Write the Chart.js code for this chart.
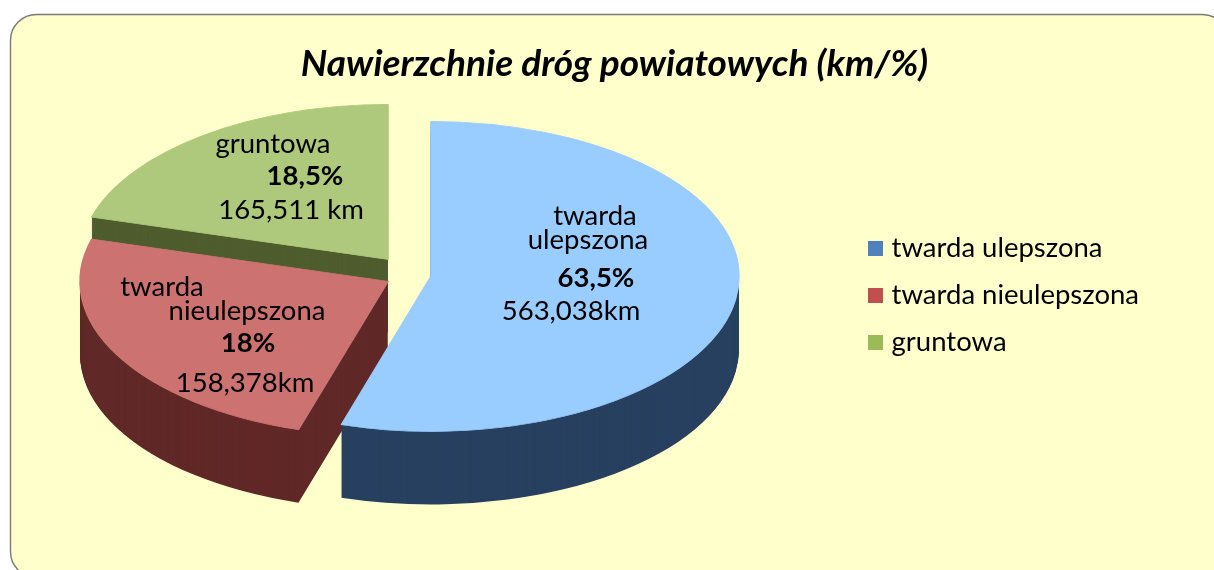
<!DOCTYPE html>
<html lang="pl">
<head>
<meta charset="utf-8">
<title>Nawierzchnie dróg powiatowych</title>
<style>html,body{margin:0;padding:0;background:#fff}#w{width:1214px;height:570px;position:relative;overflow:hidden}</style>
<script src="https://cdn.jsdelivr.net/npm/chart.js@4"></script>
</head>
<body>
<div id="w"><canvas id="c" width="1214" height="570"></canvas></div>
<script>
const chartTitle = 'Nawierzchnie dróg powiatowych (km/%)';
const categories = ['twarda ulepszona', 'twarda nieulepszona', 'gruntowa'];
// Values printed on the slices of the reference
const kmText = ['563,038km', '158,378km', '165,511 km'];
const percentText = ['63,5%', '18%', '18,5%'];
// Slice sizes as actually drawn in the reference (% of the circle);
// the source image's wedges do not follow its printed percentages.
const drawnShare = [54.7, 24.7, 20.6];

const topColors = ['#99CCFF', '#CC7371', '#AEC97B'];
const wallColors = ['#284060', '#612828', '#4F5D2E'];
const legendColors = ['#4F81BD', '#C0504D', '#9BBB59'];
const explode = [12.8, 17.25, 25.2];

const FONT = 'Lato, Carlito, Calibri, sans-serif';
const center = {x: 411.4, y: 275};
const baseRadius = 200, scaleX = 1.54, scaleY = 0.775, depth = 73;

const textLines = [
  [categories[0].split(' ')[0], 595, 216, false],
  [categories[0].split(' ')[1], 588, 240, false],
  [percentText[0], 596, 278, true],
  [kmText[0], 571, 311, false],
  [categories[1].split(' ')[0], 162, 287, false],
  [categories[1].split(' ')[1], 247, 311, false],
  [percentText[1], 248, 343, true],
  [kmText[1], 245, 383, false],
  [categories[2], 273, 144, false],
  [percentText[2], 305, 176, true],
  [kmText[2], 291, 210, false]
];

// Square legend markers, drawn as point styles so the gap to the text can match the reference
const legendSwatches = legendColors.map(col => {
  const s = document.createElement('canvas');
  s.width = 15; s.height = 15;
  const g = s.getContext('2d');
  g.fillStyle = col;
  g.fillRect(0, 0, 15, 15);
  return s;
});

const panel = {
  id: 'panel',
  beforeDraw(chart) {
    const c = chart.ctx;
    c.save();
    c.beginPath();
    c.roundRect(10.5, 14.5, 1218, 563, 26);
    c.fillStyle = '#FFFFCC';
    c.fill();
    c.lineWidth = 1.4;
    c.strokeStyle = '#7A7A72';
    c.stroke();
    c.restore();
  }
};

const pie3d = {
  id: 'pie3d',
  beforeDatasetDraw() { return false; },
  afterDatasetsDraw(chart) {
    const c = chart.ctx;
    const arcs = chart.getDatasetMeta(0).data;
    const place = (arc, i, dy) => {
      const mid = (arc.startAngle + arc.endAngle) / 2;
      c.translate(center.x, center.y + dy);
      c.scale(scaleX, scaleY);
      c.translate(Math.cos(mid) * explode[i] - arc.x, Math.sin(mid) * explode[i] - arc.y);
    };
    [2, 1, 0].forEach(i => {
      const arc = arcs[i];
      const ghost = Object.create(arc);
      ghost.options = Object.assign({}, arc.options, {backgroundColor: wallColors[i], borderColor: wallColors[i], borderWidth: 0});
      for (let d = depth; d >= 1; d--) {
        c.save(); place(arc, i, d); ghost.draw(c); c.restore();
      }
      c.save(); place(arc, i, 0); arc.draw(c); c.restore();
    });
    c.save();
    c.fillStyle = '#000';
    c.textAlign = 'center';
    c.textBaseline = 'middle';
    textLines.forEach(([t, x, y, bold]) => {
      c.font = (bold ? 'bold ' : '') + '27.5px ' + FONT;
      c.fillText(t, x, y);
    });
    c.restore();
  }
};

new Chart(document.getElementById('c'), {
  type: 'pie',
  data: {
    labels: categories,
    datasets: [{data: drawnShare, backgroundColor: topColors, borderColor: topColors, borderWidth: 1, radius: baseRadius, clip: false}]
  },
  plugins: [panel, pie3d],
  options: {
    responsive: false,
    animation: false,
    layout: {padding: {left: 80, right: 65, top: 20, bottom: 0}},
    plugins: {
      tooltip: {enabled: false},
      title: {
        display: true,
        text: chartTitle,
        color: '#000',
        font: {family: FONT, size: 37, weight: 'bold', style: 'italic'},
        padding: {top: 22, bottom: 28}
      },
      legend: {
        display: true,
        position: 'right',
        labels: {
          color: '#000',
          font: {family: FONT, size: 27.5},
          usePointStyle: true,
          boxWidth: 4,
          boxHeight: 15,
          pointStyleWidth: 4,
          padding: 19.5,
          generateLabels: () => categories.map((t, i) => ({text: t, fillStyle: legendColors[i], strokeStyle: legendColors[i], lineWidth: 0, pointStyle: legendSwatches[i], rotation: 0, index: i, hidden: false}))
        }
      }
    }
  }
});
</script>
</body>
</html>
